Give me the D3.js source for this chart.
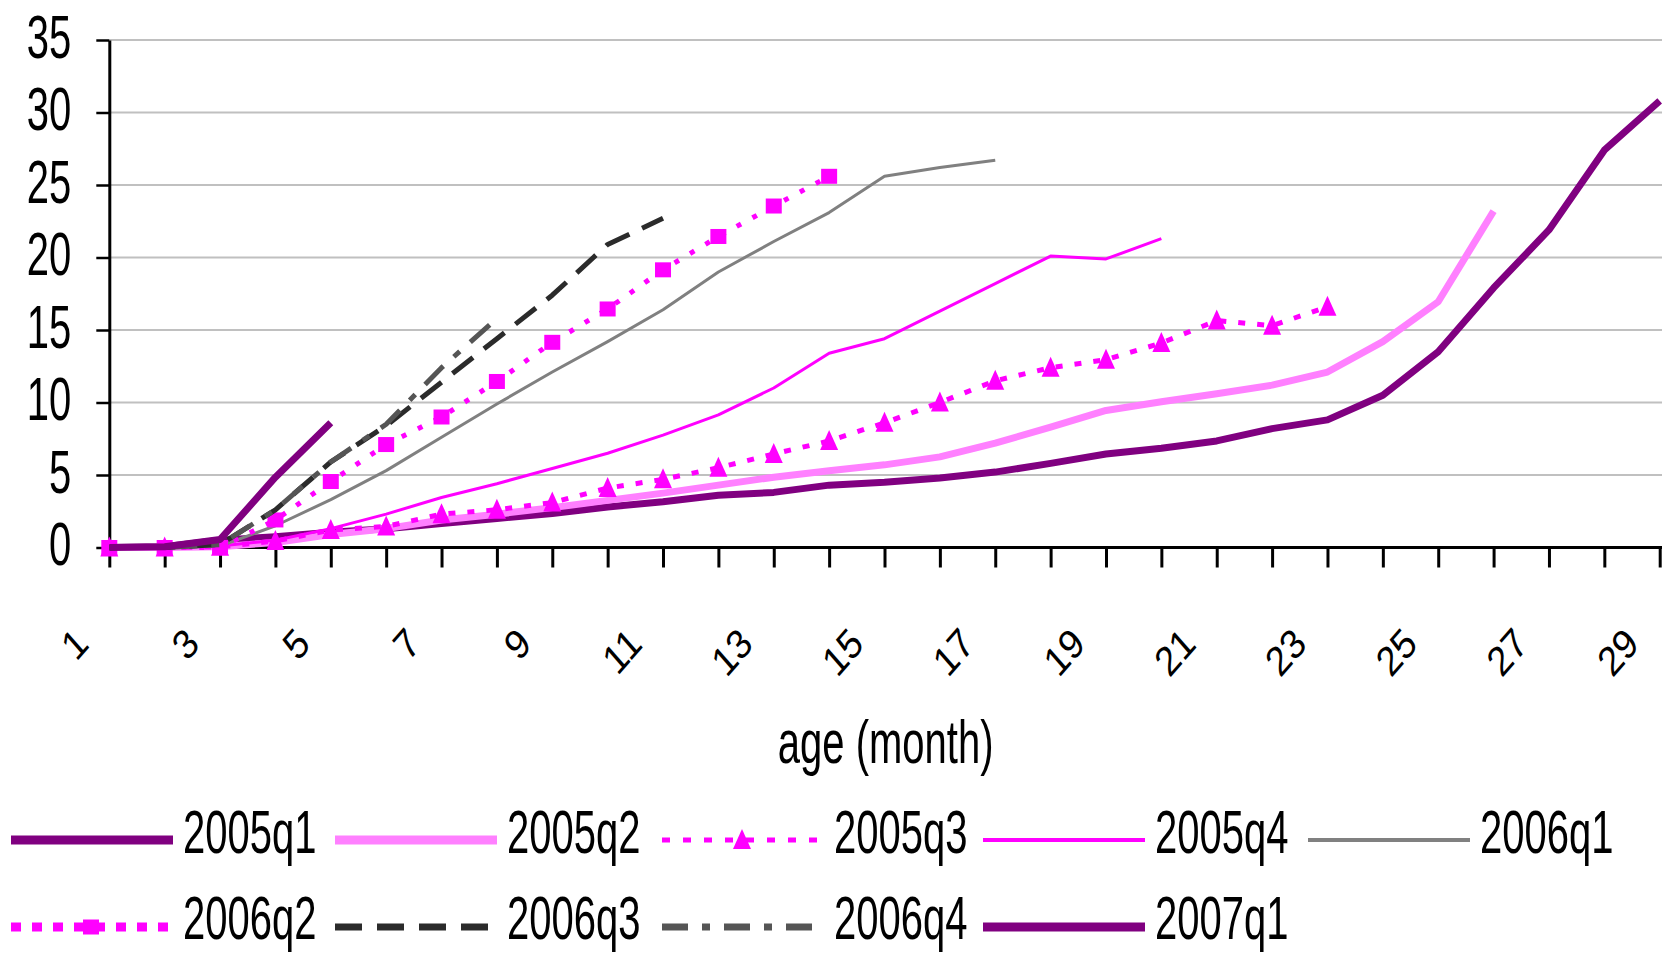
<!DOCTYPE html>
<html lang="en">
<head>
<meta charset="UTF-8">
<title>age (month)</title>
<script src="https://d3js.org/d3.v7.min.js"></script>
<style>
  body { margin: 0; background: #fff; }
  svg { display: block; font-family: "Liberation Sans", Arial, sans-serif; }
  .axis path, .axis line { stroke: #000; }
</style>
</head>
<body>
<div id="chart"></div>
<script>
// categories (age in months) and tick labels
const months = [1,2,3,4,5,6,7,8,9,10,11,12,13,14,15,16,17,18,19,20,21,22,23,24,25,26,27,28,29];
const xTickLabels = ["1","3","5","7","9","11","13","15","17","19","21","23","25","27","29"];
const yTicks = [0, 5, 10, 15, 20, 25, 30, 35];

// one array per cohort, value at month 1, 2, ...
const s2005q1 = [0, 0.05, 0.5, 0.75, 1.05, 1.3, 1.65, 2.0, 2.35, 2.8, 3.15, 3.6, 3.8, 4.3, 4.5, 4.8, 5.2, 5.8, 6.45, 6.85, 7.35, 8.2, 8.8, 10.5, 13.5, 17.9, 21.9, 27.4, 30.8];
const s2005q2 = [0, 0, 0.05, 0.35, 0.9, 1.3, 1.9, 2.3, 2.75, 3.25, 3.75, 4.3, 4.85, 5.3, 5.7, 6.25, 7.2, 8.3, 9.45, 10.05, 10.6, 11.2, 12.1, 14.2, 16.95, 23.2];
const s2005q3 = [0, 0, 0.05, 0.45, 1.2, 1.45, 2.3, 2.6, 3.1, 4.1, 4.7, 5.5, 6.45, 7.35, 8.6, 10.0, 11.5, 12.4, 12.95, 14.1, 15.65, 15.3, 16.6];
const s2005q4 = [0, 0, 0.1, 0.5, 1.3, 2.3, 3.45, 4.4, 5.45, 6.5, 7.75, 9.15, 11.0, 13.4, 14.4, 16.3, 18.2, 20.1, 19.9, 21.3];
const s2006q1 = [0, 0, 0.1, 1.5, 3.3, 5.3, 7.6, 9.9, 12.1, 14.2, 16.4, 19.0, 21.1, 23.1, 25.6, 26.2, 26.7];
const s2006q2 = [0, 0, 0, 1.9, 4.55, 7.1, 9.0, 11.45, 14.15, 16.45, 19.15, 21.45, 23.55, 25.6];
const s2006q3 = [0, 0, 0.2, 2.6, 5.9, 8.4, 11.4, 14.4, 17.4, 20.9, 22.7];
const s2006q4 = [0, 0, 0.2, 2.6, 5.9, 8.5, 12.4, 15.8];
const s2007q1 = [0, 0.05, 0.55, 4.85, 8.6];

const seriesNames = ["2005q1", "2005q2", "2005q3", "2005q4", "2006q1", "2006q2", "2006q3", "2006q4", "2007q1"];
const seriesValues = [s2005q1, s2005q2, s2005q3, s2005q4, s2006q1, s2006q2, s2006q3, s2006q4, s2007q1];

// look of each series (plot and legend)
const styles = [
  { color: "#800080", width: 7, legendWidth: 9 },
  { color: "#ff80ff", width: 7, legendWidth: 9 },
  { color: "#ff00ff", width: 5, dash: "7 12", marker: "triangle", legendWidth: 5, legendDash: "8 13" },
  { color: "#ff00ff", width: 3, legendWidth: 4 },
  { color: "#808080", width: 3, legendWidth: 4 },
  { color: "#ff00ff", width: 5, dash: "5 13", marker: "square", legendWidth: 9, legendDash: "10 11" },
  { color: "#2b2b2b", width: 5, dash: "26 14", legendWidth: 7, legendDash: "27 15" },
  { color: "#555555", width: 5, dash: "26 14 8 14", legendWidth: 7, legendDash: "26 14 8 14" },
  { color: "#800080", width: 7, legendWidth: 9 }
];

const width = 1662, height = 954;
const sy = 1.55; // the picture is stretched vertically

const svg = d3.select("#chart").append("svg")
  .attr("width", width)
  .attr("height", height);

const x = d3.scaleLinear().domain([1, 29]).range([109.3, 1659.7]);
const y = d3.scaleLinear().domain([0, 35]).range([547.5, 40]);

// gridlines
svg.append("g")
  .selectAll("line")
  .data(yTicks.filter(d => d > 0))
  .join("line")
  .attr("x1", x(1)).attr("x2", width)
  .attr("y1", d => y(d)).attr("y2", d => y(d))
  .attr("stroke", "#c0c0c0")
  .attr("stroke-width", 2);

// y axis
svg.append("g")
  .attr("class", "axis")
  .attr("transform", `translate(${x(1)},0)`)
  .call(d3.axisLeft(y).tickValues(yTicks).tickSize(13).tickSizeOuter(0))
  .call(g => g.select(".domain").attr("stroke-width", 3))
  .call(g => g.selectAll(".tick line").attr("stroke-width", 2.5))
  .call(g => g.selectAll(".tick text")
    .attr("x", null).attr("dy", null)
    .attr("fill", "#000")
    .attr("font-size", 40)
    .attr("transform", `translate(-38,17) scale(1,${sy})`));

// x axis ticks (one per month) and axis line
svg.append("g")
  .attr("class", "axis")
  .attr("transform", `translate(0,${y(0)})`)
  .call(d3.axisBottom(x).tickValues(months).tickSize(20).tickFormat(""))
  .call(g => g.select(".domain").remove())
  .call(g => g.selectAll(".tick line").attr("stroke-width", 3));

svg.append("line")
  .attr("x1", x(1) - 1.5).attr("x2", width)
  .attr("y1", y(0)).attr("y2", y(0))
  .attr("stroke", "#000")
  .attr("stroke-width", 3);

// rotated month labels
svg.append("g")
  .selectAll("text")
  .data(xTickLabels)
  .join("text")
  .attr("text-anchor", "end")
  .attr("font-size", 36)
  .attr("transform", d => `translate(${x(+d) - 19},646) scale(1,1.15) rotate(-45)`)
  .text(d => d);

// axis title
svg.append("text")
  .attr("text-anchor", "middle")
  .attr("font-size", 40)
  .attr("transform", `translate(${(x(1) + width) / 2},763) scale(1,${sy})`)
  .text("age (month)");

const line = d3.line()
  .x((d, i) => x(months[i]))
  .y(d => y(d));

const triangle = "M0,-11L9,9L-9,9Z";

function drawMarker(g, type, color) {
  if (type === "triangle") {
    g.append("path").attr("d", triangle).attr("fill", color);
  } else if (type === "square") {
    g.append("rect").attr("x", -8).attr("y", -7.5).attr("width", 16).attr("height", 15).attr("fill", color);
  }
}

// series lines, oldest first
seriesValues.forEach((vals, k) => {
  const st = styles[k];
  svg.append("path")
    .datum(vals)
    .attr("d", line)
    .attr("fill", "none")
    .attr("stroke", st.color)
    .attr("stroke-width", st.width)
    .attr("stroke-dasharray", st.dash || null)
    .attr("stroke-linejoin", "round");

  if (st.marker) {
    svg.append("g")
      .selectAll("g")
      .data(vals)
      .join("g")
      .attr("transform", (d, i) => `translate(${x(months[i])},${y(d)})`)
      .each(function() { drawMarker(d3.select(this), st.marker, st.color); });
  }
});

// legend: 5 columns, 2 rows
const legendTextX = [183, 507, 834, 1155, 1480];
const legendLineY = [840, 927];
const legendBase = [853, 939];

seriesNames.forEach((name, k) => {
  const st = styles[k];
  const col = k % 5, row = Math.floor(k / 5);
  const tx = legendTextX[col];
  const g = svg.append("g");
  g.append("line")
    .attr("x1", tx - 172).attr("x2", tx - 10)
    .attr("y1", legendLineY[row]).attr("y2", legendLineY[row])
    .attr("stroke", st.color)
    .attr("stroke-width", st.legendWidth)
    .attr("stroke-dasharray", st.legendDash || null);
  if (st.marker) {
    const m = g.append("g").attr("transform", `translate(${tx - 92},${legendLineY[row]})`);
    drawMarker(m, st.marker, st.color);
  }
  g.append("text")
    .attr("font-size", 40)
    .attr("transform", `translate(${tx},${legendBase[row]}) scale(1,${sy})`)
    .text(name);
});
</script>
</body>
</html>
